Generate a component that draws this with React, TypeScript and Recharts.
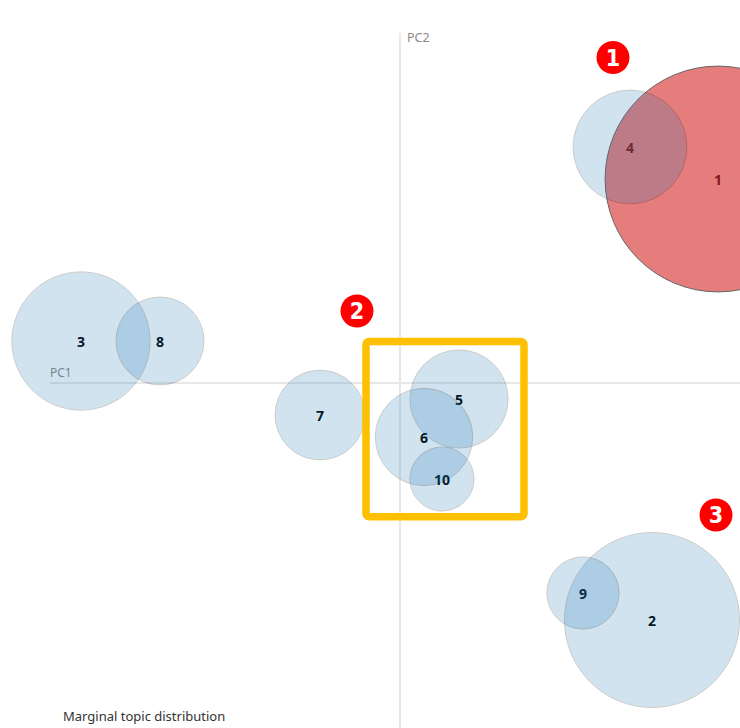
import React from 'react';
import {
  ScatterChart,
  Scatter,
  XAxis,
  YAxis,
  ZAxis,
  ReferenceLine,
  ReferenceArea,
  ReferenceDot,
} from 'recharts';

// Topic ids, intertopic distance map coordinates (PC1, PC2) and marginal topic share (%)
const topics = ['1', '2', '3', '4', '5', '6', '7', '8', '9', '10'];
const pc1 = [0.318, 0.252, -0.319, 0.23, 0.059, 0.024, -0.08, -0.24, 0.183, 0.042];
const pc2 = [0.204, -0.237, 0.042, 0.236, -0.016, -0.054, -0.032, 0.042, -0.21, -0.096];
const share = [32.3, 19.4, 12.1, 8.2, 6.1, 6.0, 5.1, 4.9, 3.3, 2.6];
const selectedTopic = '1';

// Annotation callouts (numbered markers) and highlighted cluster box
const calloutLabels = ['1', '2', '3'];
const calloutPc1 = [0.213, -0.043, 0.316];
const calloutPc2 = [0.3255, 0.072, -0.132];
const boxPc1 = [-0.034, 0.124];
const boxPc2 = [-0.1337, 0.0415];

const xDomain = [-0.4, 0.34];
const yDomain = [-0.345, 0.383];

const data = topics.map((t, i) => ({ topic: t, x: pc1[i], y: pc2[i], z: share[i] }));
const callouts = calloutLabels.map((l, i) => ({ label: l, x: calloutPc1[i], y: calloutPc2[i] }));

const FONT = "'Noto Sans', 'Open Sans', sans-serif";

const CircleShape = (props: any) => {
  const { cx, cy, width, size, payload } = props;
  const r = width != null ? width / 2 : Math.sqrt(Math.max(size || 0, 0) / Math.PI);
  const sel = payload.topic === selectedTopic;
  return (
    <circle
      cx={cx}
      cy={cy}
      r={r}
      fill={sel ? '#d62728' : '#1f77b4'}
      stroke="#000"
      strokeWidth={1}
      opacity={sel ? 0.6 : 0.2}
    />
  );
};

const LabelShape = (props: any) => {
  const { cx, cy, payload } = props;
  return (
    <text
      x={cx}
      y={cy}
      dy="0.45em"
      textAnchor="middle"
      fontFamily={FONT}
      fontWeight={700}
      fontSize={14}
      fill="#000"
    >
      {payload.topic}
    </text>
  );
};

const CalloutShape = (label: string) => (props: any) => {
  const { cx, cy } = props;
  return (
    <g>
      <circle cx={cx} cy={cy} r={16.5} fill="#ff0000" />
      <text
        x={cx}
        y={cy}
        dy="0.36em"
        textAnchor="middle"
        fontFamily="'Liberation Sans Narrow', 'DejaVu Sans Condensed', sans-serif"
        fontWeight={700}
        fontSize={23}
        fill="#fff"
      >
        {label}
      </text>
    </g>
  );
};

const PC1Label = (props: any) => {
  const vb = props.viewBox || {};
  return (
    <text x={vb.x} y={vb.y - 6} fontFamily={FONT} fontSize={12} fill="#8a8a8a">
      PC1
    </text>
  );
};

const PC2Label = (props: any) => {
  const vb = props.viewBox || {};
  return (
    <text x={vb.x + 7} y={vb.y + 9} fontFamily={FONT} fontSize={12.5} fill="#8a8a8a">
      PC2
    </text>
  );
};

export default function App() {
  return (
    <div style={{ position: 'absolute', left: 0, top: 0, width: 740, height: 728, background: '#fff' }}>
      <ScatterChart width={740} height={728} margin={{ top: 0, right: 0, bottom: 0, left: 0 }}>
        <XAxis type="number" dataKey="x" domain={xDomain} allowDataOverflow hide />
        <YAxis type="number" dataKey="y" domain={yDomain} allowDataOverflow hide />
        <ZAxis type="number" dataKey="z" domain={[0, 100]} range={[0, 124000]} />
        <ReferenceLine
          segment={[{ x: -0.35, y: 0 }, { x: 0.34, y: 0 }]}
          stroke="#e8e8e8"
          strokeWidth={2}
          label={<PC1Label />}
          zIndex={-50}
        />
        <ReferenceLine
          segment={[{ x: 0, y: 0.35 }, { x: 0, y: -0.345 }]}
          stroke="#e8e8e8"
          strokeWidth={2}
          label={<PC2Label />}
          zIndex={-50}
        />
        <Scatter data={data} shape={LabelShape} isAnimationActive={false} zIndex={590} />
        <Scatter data={data} shape={CircleShape} isAnimationActive={false} zIndex={600} />
        <ReferenceArea
          x1={boxPc1[0]}
          x2={boxPc1[1]}
          y1={boxPc2[0]}
          y2={boxPc2[1]}
          fill="none"
          fillOpacity={0}
          stroke="#ffc000"
          strokeWidth={7.5}
          radius={3}
          zIndex={2000}
        />
        {callouts.map((c) => (
          <ReferenceDot key={c.label} x={c.x} y={c.y} r={16} shape={CalloutShape(c.label)} zIndex={2000} />
        ))}
      </ScatterChart>
      <div
        style={{
          position: 'absolute',
          left: 63,
          top: 707,
          fontFamily: FONT,
          fontSize: 13,
          color: '#333',
          whiteSpace: 'nowrap',
        }}
      >
        Marginal topic distribution
      </div>
    </div>
  );
}
